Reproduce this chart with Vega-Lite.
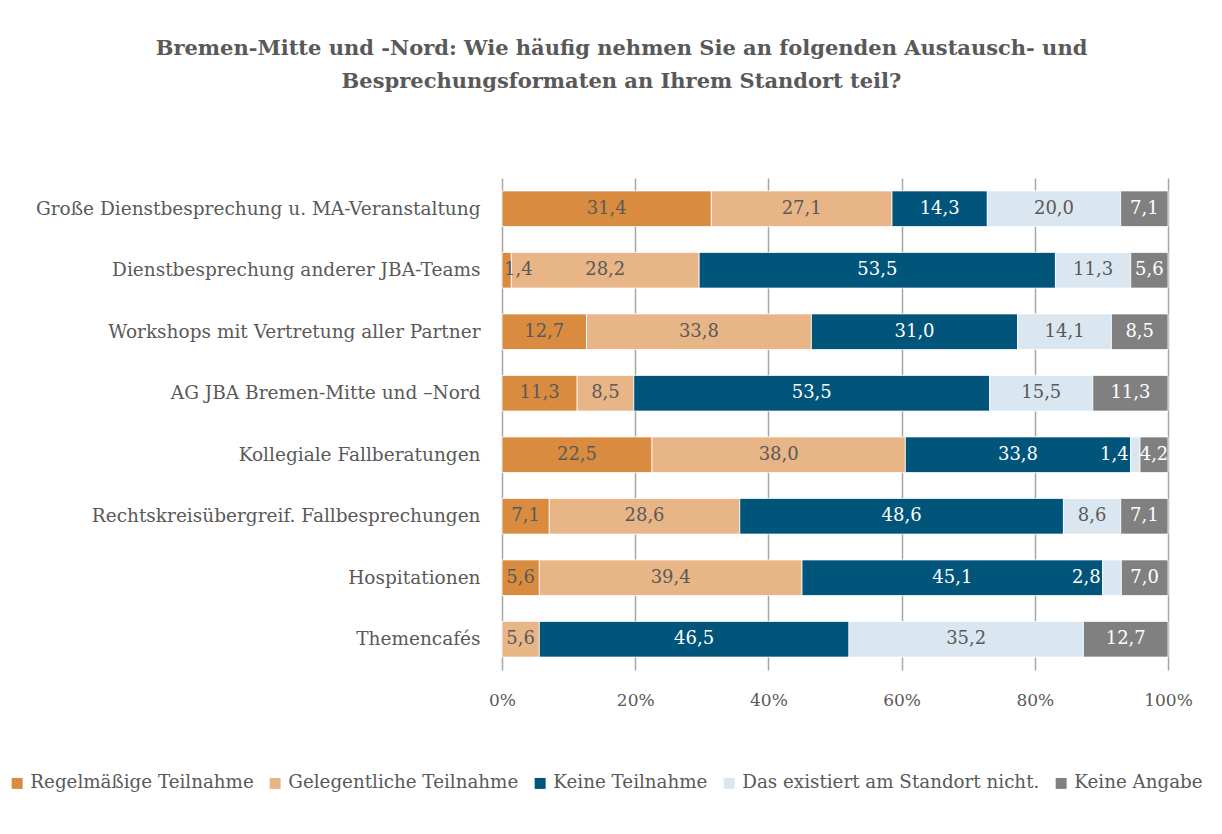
{
  "$schema": "https://vega.github.io/schema/vega-lite/v6.json",
  "width": 666,
  "height": 492,
  "autosize": {"type": "none"},
  "padding": {"left": 502, "top": 178, "right": 54, "bottom": 164},
  "background": "white",
  "config": {
    "locale": {"number": {"decimal": ",", "thousands": ".", "grouping": [3], "currency": ["", " €"]}},
    "view": {"stroke": null},
    "font": "DejaVu Serif"
  },
  "title": {
    "text": ["Bremen-Mitte und -Nord: Wie häufig nehmen Sie an folgenden Austausch- und", "Besprechungsformaten an Ihrem Standort teil?"],
    "font": "DejaVu Serif",
    "fontSize": 21,
    "fontWeight": "bold",
    "color": "#595959",
    "anchor": "middle",
    "frame": "bounds",
    "offset": 86,
    "dx": 16,
    "lineHeight": 33
  },
  "data": {
    "values": [
      {"row": "Große Dienstbesprechung u. MA-Veranstaltung", "cat": "Regelmäßige Teilnahme", "value": 31.4},
      {"row": "Große Dienstbesprechung u. MA-Veranstaltung", "cat": "Gelegentliche Teilnahme", "value": 27.1},
      {"row": "Große Dienstbesprechung u. MA-Veranstaltung", "cat": "Keine Teilnahme", "value": 14.3},
      {"row": "Große Dienstbesprechung u. MA-Veranstaltung", "cat": "Das existiert am Standort nicht.", "value": 20.0},
      {"row": "Große Dienstbesprechung u. MA-Veranstaltung", "cat": "Keine Angabe", "value": 7.1},
      {"row": "Dienstbesprechung anderer JBA-Teams", "cat": "Regelmäßige Teilnahme", "value": 1.4},
      {"row": "Dienstbesprechung anderer JBA-Teams", "cat": "Gelegentliche Teilnahme", "value": 28.2},
      {"row": "Dienstbesprechung anderer JBA-Teams", "cat": "Keine Teilnahme", "value": 53.5},
      {"row": "Dienstbesprechung anderer JBA-Teams", "cat": "Das existiert am Standort nicht.", "value": 11.3},
      {"row": "Dienstbesprechung anderer JBA-Teams", "cat": "Keine Angabe", "value": 5.6},
      {"row": "Workshops mit Vertretung aller Partner", "cat": "Regelmäßige Teilnahme", "value": 12.7},
      {"row": "Workshops mit Vertretung aller Partner", "cat": "Gelegentliche Teilnahme", "value": 33.8},
      {"row": "Workshops mit Vertretung aller Partner", "cat": "Keine Teilnahme", "value": 31.0},
      {"row": "Workshops mit Vertretung aller Partner", "cat": "Das existiert am Standort nicht.", "value": 14.1},
      {"row": "Workshops mit Vertretung aller Partner", "cat": "Keine Angabe", "value": 8.5},
      {"row": "AG JBA Bremen-Mitte und –Nord", "cat": "Regelmäßige Teilnahme", "value": 11.3},
      {"row": "AG JBA Bremen-Mitte und –Nord", "cat": "Gelegentliche Teilnahme", "value": 8.5},
      {"row": "AG JBA Bremen-Mitte und –Nord", "cat": "Keine Teilnahme", "value": 53.5},
      {"row": "AG JBA Bremen-Mitte und –Nord", "cat": "Das existiert am Standort nicht.", "value": 15.5},
      {"row": "AG JBA Bremen-Mitte und –Nord", "cat": "Keine Angabe", "value": 11.3},
      {"row": "Kollegiale Fallberatungen", "cat": "Regelmäßige Teilnahme", "value": 22.5},
      {"row": "Kollegiale Fallberatungen", "cat": "Gelegentliche Teilnahme", "value": 38.0},
      {"row": "Kollegiale Fallberatungen", "cat": "Keine Teilnahme", "value": 33.8},
      {"row": "Kollegiale Fallberatungen", "cat": "Das existiert am Standort nicht.", "value": 1.4},
      {"row": "Kollegiale Fallberatungen", "cat": "Keine Angabe", "value": 4.2},
      {"row": "Rechtskreisübergreif. Fallbesprechungen", "cat": "Regelmäßige Teilnahme", "value": 7.1},
      {"row": "Rechtskreisübergreif. Fallbesprechungen", "cat": "Gelegentliche Teilnahme", "value": 28.6},
      {"row": "Rechtskreisübergreif. Fallbesprechungen", "cat": "Keine Teilnahme", "value": 48.6},
      {"row": "Rechtskreisübergreif. Fallbesprechungen", "cat": "Das existiert am Standort nicht.", "value": 8.6},
      {"row": "Rechtskreisübergreif. Fallbesprechungen", "cat": "Keine Angabe", "value": 7.1},
      {"row": "Hospitationen", "cat": "Regelmäßige Teilnahme", "value": 5.6},
      {"row": "Hospitationen", "cat": "Gelegentliche Teilnahme", "value": 39.4},
      {"row": "Hospitationen", "cat": "Keine Teilnahme", "value": 45.1},
      {"row": "Hospitationen", "cat": "Das existiert am Standort nicht.", "value": 2.8},
      {"row": "Hospitationen", "cat": "Keine Angabe", "value": 7.0},
      {"row": "Themencafés", "cat": "Regelmäßige Teilnahme", "value": 0},
      {"row": "Themencafés", "cat": "Gelegentliche Teilnahme", "value": 5.6},
      {"row": "Themencafés", "cat": "Keine Teilnahme", "value": 46.5},
      {"row": "Themencafés", "cat": "Das existiert am Standort nicht.", "value": 35.2},
      {"row": "Themencafés", "cat": "Keine Angabe", "value": 12.7}
    ]
  },
  "transform": [
    {"calculate": "indexof(['Regelmäßige Teilnahme','Gelegentliche Teilnahme','Keine Teilnahme','Das existiert am Standort nicht.','Keine Angabe'], datum.cat)", "as": "k"},
    {"stack": "value", "groupby": ["row"], "sort": [{"field": "k", "order": "ascending"}], "offset": "normalize", "as": ["v0", "v1"]},
    {"calculate": "(datum.v0 + datum.v1) / 2", "as": "mid"}
  ],
  "encoding": {
    "y": {
      "field": "row",
      "type": "nominal",
      "sort": ["Große Dienstbesprechung u. MA-Veranstaltung", "Dienstbesprechung anderer JBA-Teams", "Workshops mit Vertretung aller Partner", "AG JBA Bremen-Mitte und –Nord", "Kollegiale Fallberatungen", "Rechtskreisübergreif. Fallbesprechungen", "Hospitationen", "Themencafés"],
      "scale": {"paddingInner": 0.42, "paddingOuter": 0.21},
      "axis": {"title": null, "domain": false, "ticks": false, "labelFontSize": 18.5, "labelColor": "#595959", "labelPadding": 22, "labelFont": "DejaVu Serif", "labelLimit": 600}
    }
  },
  "layer": [
    {
      "mark": {"type": "bar", "stroke": "white", "strokeWidth": 0.8},
      "encoding": {
        "x": {
          "field": "v0", "type": "quantitative",
          "scale": {"domain": [0, 1], "nice": false},
          "axis": {"title": null, "format": ".0%", "values": [0, 0.2, 0.4, 0.6, 0.8, 1], "domain": false, "ticks": false, "grid": true, "gridColor": "#A6A6A6", "gridWidth": 1.5, "labelFontSize": 17, "labelColor": "#595959", "labelPadding": 22, "labelFont": "DejaVu Serif", "labelFlush": false, "labelOverlap": false, "labelBound": false}
        },
        "x2": {"field": "v1"},
        "color": {
          "field": "cat", "type": "nominal",
          "scale": {
            "domain": ["Regelmäßige Teilnahme", "Gelegentliche Teilnahme", "Keine Teilnahme", "Das existiert am Standort nicht.", "Keine Angabe"],
            "range": ["#D98C40", "#E8B586", "#02557A", "#DAE7F1", "#808080"]
          },
          "legend": {
            "title": null, "orient": "none", "direction": "horizontal",
            "legendX": -494, "legendY": 596,
            "symbolType": "square", "symbolSize": 120, "symbolStrokeWidth": 0,
            "labelFontSize": 18.3, "labelColor": "#595959", "labelFont": "DejaVu Serif",
            "columnPadding": 12, "labelOffset": 4, "labelLimit": 400
          }
        }
      }
    },
    {
      "transform": [{"filter": "datum.value >= 3"}],
      "mark": {"type": "text", "fontSize": 18, "font": "DejaVu Serif", "align": "center", "baseline": "middle"},
      "encoding": {
        "x": {"field": "mid", "type": "quantitative"},
        "text": {"field": "value", "type": "quantitative", "format": ".1f"},
        "color": {"condition": {"test": "datum.cat === 'Keine Teilnahme' || datum.cat === 'Keine Angabe'", "value": "white"}, "value": "#595959"}
      }
    },
    {
      "transform": [{"filter": "datum.value > 0 && datum.value < 3 && datum.cat === 'Das existiert am Standort nicht.'"}],
      "mark": {"type": "text", "fontSize": 18, "font": "DejaVu Serif", "align": "right", "baseline": "middle", "dx": -2, "color": "white"},
      "encoding": {
        "x": {"field": "v0", "type": "quantitative"},
        "text": {"field": "value", "type": "quantitative", "format": ".1f"}
      }
    },
    {
      "transform": [{"filter": "datum.value > 0 && datum.value < 3 && datum.cat === 'Regelmäßige Teilnahme'"}],
      "mark": {"type": "text", "fontSize": 18, "font": "DejaVu Serif", "align": "left", "baseline": "middle", "dx": 2, "color": "#595959"},
      "encoding": {
        "x": {"field": "v0", "type": "quantitative"},
        "text": {"field": "value", "type": "quantitative", "format": ".1f"}
      }
    }
  ]
}
